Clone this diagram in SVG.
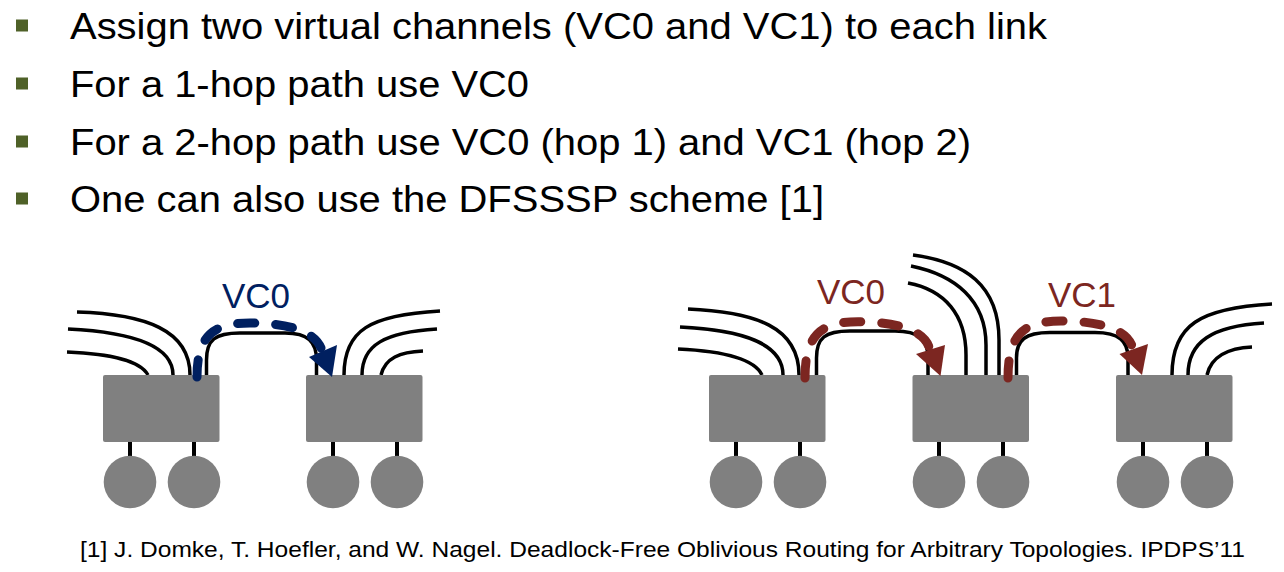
<svg xmlns="http://www.w3.org/2000/svg" width="1284" height="572" viewBox="0 0 1284 572">
<defs>
<style>
.txt{font-family:"Liberation Sans",Arial,sans-serif;fill:#000}
.main{font-size:36px}
.foot{font-size:22px}
.lbl{font-size:35px}
.bul{fill:#4F6128}
.sw{fill:#808080}
.host{fill:#808080}
.wire{fill:none;stroke:#000;stroke-width:3.5}
.stub{stroke:#000;stroke-width:4}
.dash{fill:none;stroke-width:9;stroke-linecap:round;stroke-dasharray:17 21}
.navy{stroke:#002060}
.red{stroke:#7C2621}
</style>
</defs>
<rect width="1284" height="572" fill="#fff"/>

<g id="bullets">
<rect class="bul" x="16" y="19.5" width="12" height="12"/>
<rect class="bul" x="16" y="77.5" width="12" height="12"/>
<rect class="bul" x="16" y="135.5" width="12" height="12"/>
<rect class="bul" x="16" y="192.5" width="12" height="12"/>
<text class="txt main" x="70" y="39" textLength="977" lengthAdjust="spacingAndGlyphs">Assign two virtual channels (VC0 and VC1) to each link</text>
<text class="txt main" x="70" y="97" textLength="459" lengthAdjust="spacingAndGlyphs">For a 1-hop path use VC0</text>
<text class="txt main" x="70" y="155" textLength="901" lengthAdjust="spacingAndGlyphs">For a 2-hop path use VC0 (hop 1) and VC1 (hop 2)</text>
<text class="txt main" x="70" y="212" textLength="754" lengthAdjust="spacingAndGlyphs">One can also use the DFSSSP scheme [1]</text>
</g>

<g id="connectors">
<path class="wire" d="M77,312 C145,314 190,330 190,375"/>
<path class="wire" d="M68,329 C130,332 173,345 173,375"/>
<path class="wire" d="M67,352 C110,354 140,360 148,375"/>
<path class="wire" d="M344,375 C344,330 370,315 440,311"/>
<path class="wire" d="M362,375 C362,345 385,332 437,329"/>
<path class="wire" d="M381,375 C385,358 400,352 423,351"/>
<path class="wire" d="M206.5,375 L206.5,360 C206.5,340 215,333 240,333 L285,333 C308,333 316.5,342 316.5,360 L316.5,375"/>
<path class="wire" d="M688,309 C756,312 799,327 799,375"/>
<path class="wire" d="M680,327 C742,330 783,343 783,375"/>
<path class="wire" d="M678,349 C722,351 754,358 762,375"/>
<path class="wire" d="M913,255 C965,262 999,285 999,340 L999,375"/>
<path class="wire" d="M911,266 C955,275 986,300 986,345 L986,375"/>
<path class="wire" d="M908,283 C945,290 966,315 966,355 L966,375"/>
<path class="wire" d="M1172,375 C1172,325 1200,308 1272,304"/>
<path class="wire" d="M1188,375 C1188,342 1212,326 1264,323"/>
<path class="wire" d="M1207,375 C1211,357 1228,348 1252,347"/>
<path class="wire" d="M816.5,375 L816.5,358 C816.5,338 825,331 850,331 L895,331 C919,331 928,340 928,358 L928,375"/>
<path class="wire" d="M1016.5,375 L1016.5,358 C1016.5,340 1025,332.5 1050,332.5 L1095,332.5 C1119,332.5 1128,341 1128,358 L1128,375"/>
<g class="stub">
<line x1="130" y1="441" x2="130" y2="457"/><line x1="194" y1="441" x2="194" y2="457"/>
<line x1="333" y1="441" x2="333" y2="457"/><line x1="397" y1="441" x2="397" y2="457"/>
<line x1="736" y1="441" x2="736" y2="457"/><line x1="800" y1="441" x2="800" y2="457"/>
<line x1="939" y1="441" x2="939" y2="457"/><line x1="1003" y1="441" x2="1003" y2="457"/>
<line x1="1143" y1="441" x2="1143" y2="457"/><line x1="1207" y1="441" x2="1207" y2="457"/>
</g>
</g>

<g id="switch-a"><rect class="sw" x="103" y="375" width="116.5" height="67" rx="2"/></g>
<g id="switch-b"><rect class="sw" x="306" y="375" width="116.5" height="67" rx="2"/></g>
<g id="switch-c"><rect class="sw" x="709" y="375" width="116.5" height="67" rx="2"/></g>
<g id="switch-d"><rect class="sw" x="912.5" y="375" width="116.5" height="67" rx="2"/></g>
<g id="switch-e"><rect class="sw" x="1116" y="375" width="116.5" height="67" rx="2"/></g>

<g id="hosts">
<circle class="host" cx="130" cy="482" r="26.3"/><circle class="host" cx="194" cy="482" r="26.3"/>
<circle class="host" cx="333" cy="482" r="26.3"/><circle class="host" cx="397" cy="482" r="26.3"/>
<circle class="host" cx="736" cy="482" r="26.3"/><circle class="host" cx="800" cy="482" r="26.3"/>
<circle class="host" cx="939" cy="482" r="26.3"/><circle class="host" cx="1003" cy="482" r="26.3"/>
<circle class="host" cx="1143" cy="482" r="26.3"/><circle class="host" cx="1207" cy="482" r="26.3"/>
</g>

<g id="vc-left">
<path class="dash navy" d="M197,377 C197,336 213,323 250,323 C288,323 314,331 321,348"/>
<polygon fill="#002060" points="332,377 309,357 337,345"/>
<text class="txt lbl" x="222" y="308" style="fill:#002060">VC0</text>
</g>
<g id="vc-right-0">
<path class="dash red" d="M805,378 C805,335 821,321.7 858,321.7 C896,321.7 923,330 929,347"/>
<polygon fill="#7C2621" points="940.5,376 916,354 945,345"/>
<text class="txt lbl" x="817" y="304" style="fill:#7C2621">VC0</text>
</g>
<g id="vc-right-1">
<path class="dash red" d="M1008,378 C1008,334 1024,321 1061,321 C1099,321 1126,329 1132,346"/>
<polygon fill="#7C2621" points="1142,375 1119.5,354 1148,344"/>
<text class="txt lbl" x="1048" y="307" style="fill:#7C2621">VC1</text>
</g>

<g id="footnote">
<text class="txt foot" x="80" y="557" textLength="1165" lengthAdjust="spacingAndGlyphs">[1] J. Domke, T. Hoefler, and W. Nagel. Deadlock-Free Oblivious Routing for Arbitrary Topologies. IPDPS’11</text>
</g>
</svg>
